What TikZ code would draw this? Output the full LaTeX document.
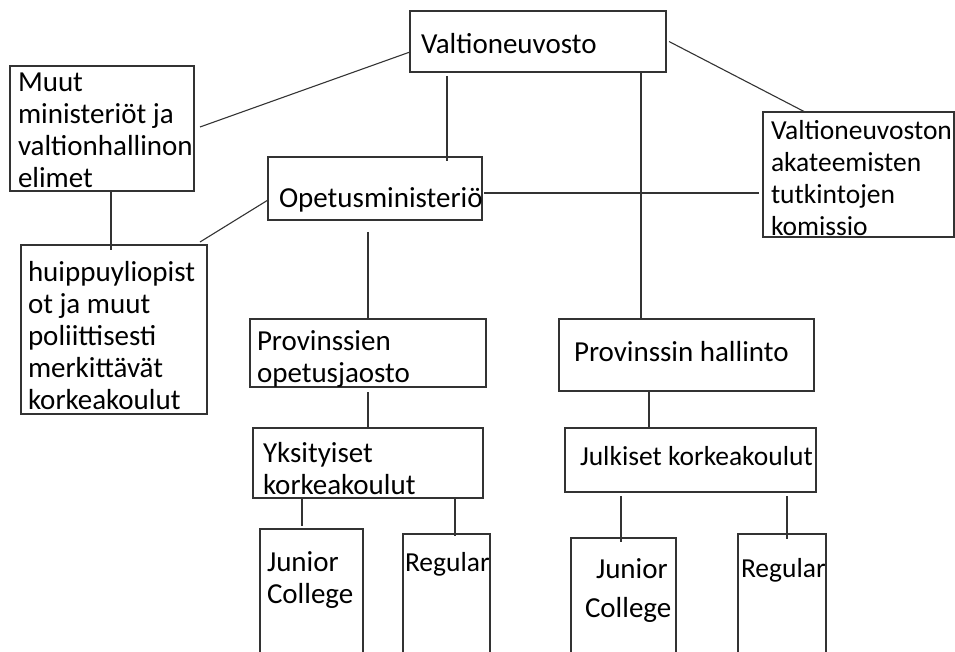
\documentclass[tikz,border=0pt]{standalone}
\usepackage{fontspec}
\setmainfont{Carlito}
\usetikzlibrary{calc}
\tikzset{
  box/.style={draw=black!80, line width=1.2pt, rectangle, inner sep=0pt, outer sep=0pt},
  conn/.style={draw=black!80, line width=1.1pt},
  txt/.style={inner sep=0pt, outer sep=0pt, anchor=base west, text width=300pt, align=flush left,
    font=\fontsize{29}{32}\selectfont, text=black},
  smalltxt/.style={txt, font=\fontsize{27.5}{31.7}\selectfont},
}
\begin{document}
\begin{tikzpicture}[x=1pt,y=-1pt]
\useasboundingbox (0,0) rectangle (955,652);
\clip (0,0) rectangle (955,652);
% boxes
\node[box, minimum width=256pt, minimum height=61pt] (valt) at (538,41.5) {};
\node[box, minimum width=184pt, minimum height=125pt] (muut) at (102,128.5) {};
\node[box, minimum width=214pt, minimum height=63pt] (opm) at (375,188.5) {};
\node[box, minimum width=191pt, minimum height=125pt] (vak) at (858.5,174.5) {};
\node[box, minimum width=186pt, minimum height=169pt] (huip) at (114,329.5) {};
\node[box, minimum width=236pt, minimum height=68pt] (prov) at (368,353) {};
\node[box, minimum width=230pt, minimum height=70pt] (yks) at (368,463) {};
\node[box, minimum width=103pt, minimum height=171pt] (jcl) at (311.5,614.5) {};
\node[box, minimum width=87pt, minimum height=166pt] (regl) at (446.5,617) {};
\node[box, minimum width=255pt, minimum height=72pt] (hall) at (686.5,355) {};
\node[box, minimum width=251pt, minimum height=64pt] (julk) at (690.5,460) {};
\node[box, minimum width=105pt, minimum height=162pt] (jcr) at (623.5,619) {};
\node[box, minimum width=88pt, minimum height=166pt] (regr) at (782,617) {};
% texts
\node[txt] (tvalt) at (421,54) {Valtioneuvosto};
\node[txt] (tmuut) at (18,92) {Muut\\ministeriöt ja\\valtionhallinon\\elimet};
\node[txt] (topm) at (279,208) {Opetusministeriö};
\node[smalltxt] (tvak) at (771,140) {Valtioneuvoston\\akateemisten\\tutkintojen\\komissio};
\node[txt] (thuip) at (28,281) {huippuyliopist\\ot ja muut\\poliittisesti\\merkittävät\\korkeakoulut};
\node[txt] (tprov) at (257,350) {Provinssien\\opetusjaosto};
\node[txt] (tyks) at (263,462) {Yksityiset\\korkeakoulut};
\node[txt] (tjcl) at (267,571) {Junior\\College};
\node[smalltxt] (tregl) at (405,571) {Regular};
\node[txt] (thall) at (574,361) {Provinssin hallinto};
\node[smalltxt] (tjulk) at (580,465) {Julkiset korkeakoulut};
\node[txt] (tjcr1) at (596,578) {Junior};
\node[txt] (tjcr2) at (585,617) {College};
\node[smalltxt] (tregr) at (741,577) {Regular};
% connectors
\draw[conn] ($(valt.west)+(0,10.5)$) -- ($(muut.east)+(6,-1.5)$);
\draw[conn] ($(valt.south west)+(37,4)$) -- ($(opm.north west)+(179,4)$);
\draw[conn] ($(valt.south west)+(231,0)$) -- ($(hall.north west)+(82,0)$);
\draw[conn] ($(valt.east)+(3,0)$) -- ($(vak.north west)+(42,0)$);
\draw[conn] ($(opm.east)+(2,4.5)$) -- ($(vak.west)+(-4,18.5)$);
\draw[conn] ($(opm.west)+(0,11.5)$) -- ($(huip.north east)+(-7,-3)$);
\draw[conn] ($(muut.south west)+(101,0)$) -- ($(huip.north west)+(90,5)$);
\draw[conn] ($(opm.south west)+(100,12)$) -- ($(prov.north west)+(118,0)$);
\draw[conn] ($(prov.south west)+(118,5)$) -- ($(yks.north west)+(115,0)$);
\draw[conn] ($(yks.south west)+(49,0)$) -- ($(jcl.north west)+(42,-3)$);
\draw[conn] ($(yks.south west)+(202,0)$) -- ($(regl.north west)+(52,2)$);
\draw[conn] ($(hall.south west)+(90,0)$) -- ($(julk.north west)+(84,0)$);
\draw[conn] ($(julk.south west)+(56,4)$) -- ($(jcr.north west)+(50,4)$);
\draw[conn] ($(julk.south west)+(222,4)$) -- ($(regr.north west)+(49,5)$);
\end{tikzpicture}
\end{document}
